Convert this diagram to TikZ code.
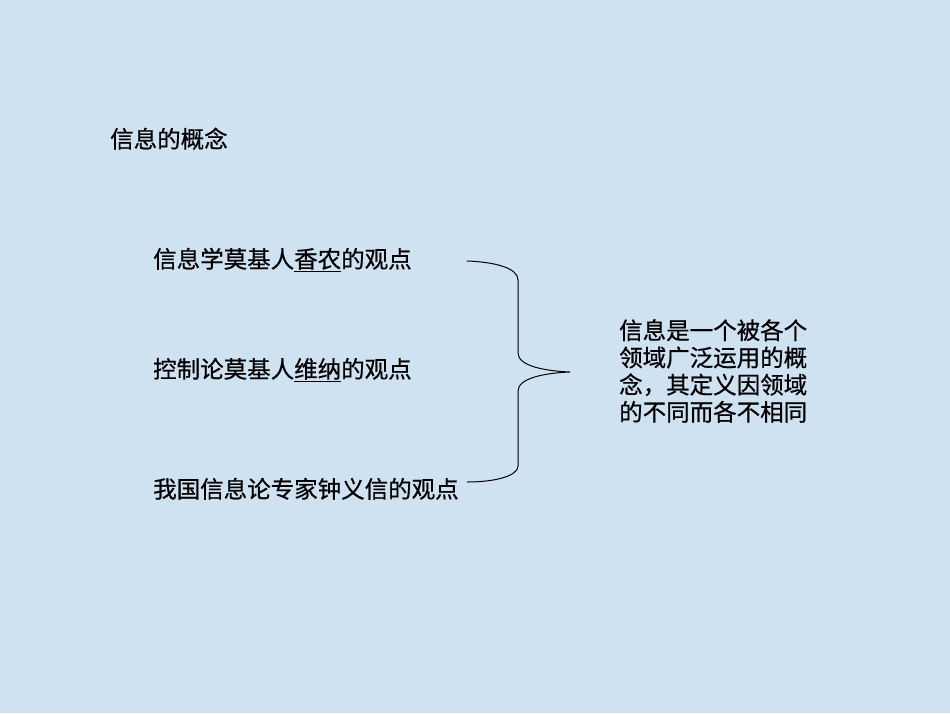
\documentclass[tikz,border=0pt]{standalone}
\usepackage{fontspec}
\setmainfont{Noto Sans CJK SC}[FakeBold=0.6]
\begin{document}
\begin{tikzpicture}[x=1pt,y=-1pt,
  txt/.style={anchor=west,inner sep=0pt,font=\fontsize{23.5}{27.2}\selectfont,text height=0.88em,text depth=0.12em},
  bracestyle/.style={draw=black,line width=1pt}]
\definecolor{bgblue}{RGB}{206,226,242}
\fill[bgblue] (0,0) rectangle (950,713);
\useasboundingbox (0,0) rectangle (950,713);
\node[txt] (title) at (110,144) {信息的概念};
\node[txt] (a) at (153,264) {信息学莫基人\underline{香农}的观点};
\node[txt] (b) at (153,374) {控制论莫基人\underline{维纳}的观点};
\node[txt] (c) at (153,494) {我国信息论专家钟义信的观点};
\node[txt,align=left,text height=,text depth=] (d) at (619,371) {信息是一个被各个\\领域广泛运用的概\\念，其定义因领域\\的不同而各不相同};
\coordinate (btop) at (467,261);
\coordinate (bbot) at (467,482);
\coordinate (btip) at (570,372);
\draw[bracestyle] (btop) .. controls (495,262) and (518,268) .. (518,280)
  -- (518,353) .. controls (518,366) and (545,371) .. (btip)
  .. controls (545,373) and (518,378) .. (518,391)
  -- (518,466) .. controls (518,476) and (495,482) .. (bbot);
\end{tikzpicture}
\end{document}
